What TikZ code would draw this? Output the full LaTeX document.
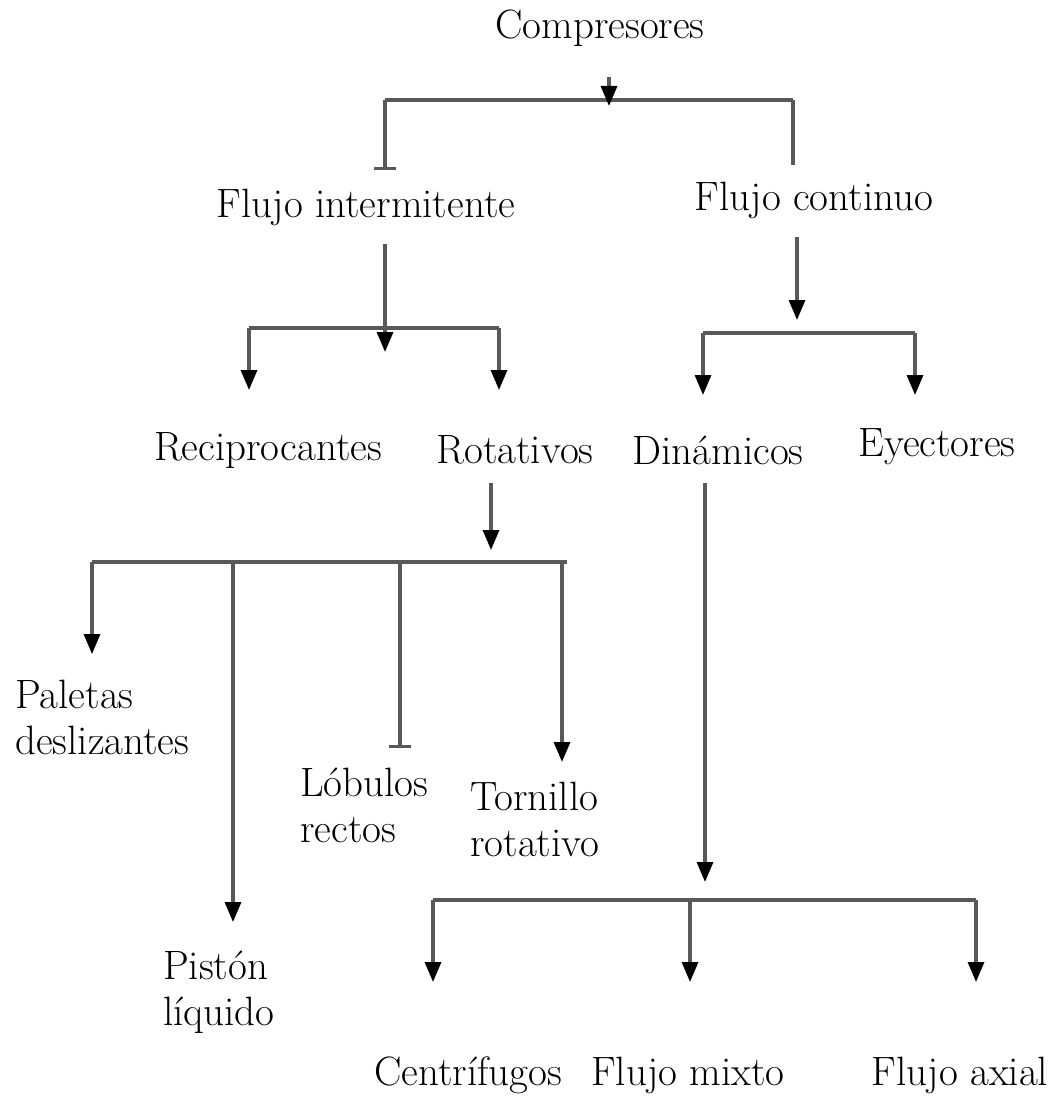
\documentclass[tikz,border=0pt]{standalone}
\usetikzlibrary{positioning, arrows.meta}

\begin{document}
\begin{tikzpicture}[
      x=1pt, y=-1pt,
      every node/.style={font=\fontsize{41}{46}\selectfont, inner sep=0pt},
      lbl/.style={align=left, anchor=west},
      wire/.style={draw=gray!70!black, line width=3.2pt},
      arw/.style={-{Triangle[length=20pt, width=16pt, black]}},
      stub/.style={-{Bar[width=22pt, line width=3.2pt]}},
    ]
    \useasboundingbox (0,0) rectangle (1052,1110);

    \node (comp)  at (600, 28)  {Compresores};
    \node (inter) at (366, 207) {Flujo intermitente};
    \node (cont)  at (814, 200) {Flujo continuo};
    \node (recip) at (268, 450) {Reciprocantes};
    \node (rot)   at (515, 450) {Rotativos};
    \node (din)   at (718, 450) {Dinámicos};
    \node (eye)   at (937, 447) {Eyectores};
    \node[lbl] (pal) at (15, 717)  {Paletas\\deslizantes};
    \node[lbl] (lob) at (300, 805) {Lóbulos\\rectos};
    \node[lbl] (tor) at (470, 819) {Tornillo\\rotativo};
    \node[lbl] (pis) at (163, 992) {Pistón\\líquido};
    \node (cen) at (468, 1075) {Centrífugos};
    \node (mix) at (688, 1075) {Flujo mixto};
    \node (axi) at (960, 1075) {Flujo axial};

    \coordinate (t0)  at (609, 106);
    \coordinate (bl0) at (385, 100);
    \coordinate (br0) at (793, 100);
    \coordinate (e0l) at (385, 170);
    \coordinate (e0r) at (793, 165);
    \draw[wire] (bl0) -- (br0);
    \draw[wire, arw, shorten <=30pt] (comp.south -| t0) -- (t0);
    \draw[wire, stub] (bl0) -- (e0l);
    \draw[wire] (br0) -- (e0r);

    \coordinate (t1)  at (385, 352);
    \coordinate (bl1) at (249, 328);
    \coordinate (br1) at (499, 328);
    \draw[wire] (bl1) -- (br1);
    \draw[wire, arw, shorten <=18pt] (inter.south -| t1) -- (t1);
    \draw[wire, arw] (bl1) -- (249, 390);
    \draw[wire, arw] (br1) -- (499, 390);

    \coordinate (t2)  at (797, 320);
    \coordinate (bl2) at (703, 333);
    \coordinate (br2) at (915, 333);
    \draw[wire] (bl2) -- (br2);
    \draw[wire, arw, shorten <=18pt] (cont.south -| t2) -- (t2);
    \draw[wire, arw] (bl2) -- (703, 395);
    \draw[wire, arw] (br2) -- (915, 395);

    \coordinate (t3)  at (491, 550);
    \coordinate (bl3) at (92, 562);
    \coordinate (br3) at (567, 562);
    \draw[wire] (bl3) -- (br3);
    \draw[wire, arw, shorten <=18pt] (rot.south -| t3) -- (t3);
    \draw[wire, arw]  (bl3) -- (92, 654);
    \draw[wire, arw]  (233, 562) -- (233, 922);
    \draw[wire, stub] (400, 562) -- (400, 748);
    \draw[wire, arw]  (562, 562) -- (562, 762);

    \coordinate (t4)  at (705, 882);
    \coordinate (bl4) at (433, 900);
    \coordinate (br4) at (976, 900);
    \draw[wire] (bl4) -- (br4);
    \draw[wire, arw, shorten <=18pt] (din.south -| t4) -- (t4);
    \draw[wire, arw] (bl4) -- (433, 982);
    \draw[wire, arw] (690, 900) -- (690, 982);
    \draw[wire, arw] (br4) -- (976, 982);
  \end{tikzpicture}
\end{document}
